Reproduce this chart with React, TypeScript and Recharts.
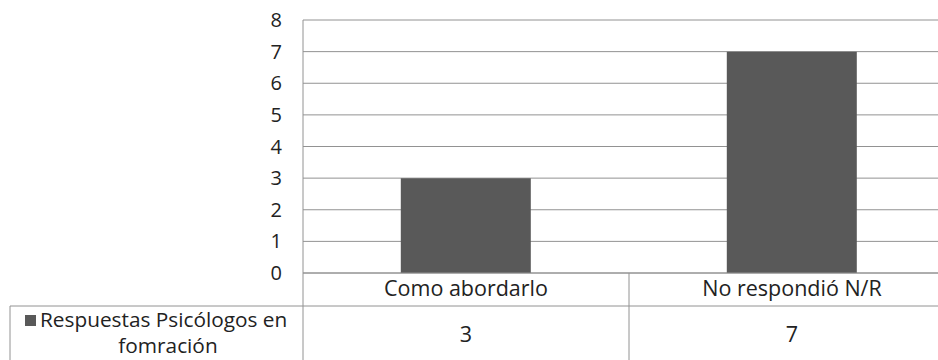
import React from "react";
import { BarChart, Bar, XAxis, YAxis, CartesianGrid } from "recharts";

// chart values
const categories = ["Como abordarlo", "No respondió N/R"];
const respuestas = [3, 7];
const yTicks = [0, 1, 2, 3, 4, 5, 6, 7, 8];
const seriesLines = ["Respuestas Psicólogos en", "fomración"];

const data = categories.map((name, i) => ({ name, respuestas: respuestas[i] }));

const FONT = "'Open Sans', sans-serif";
const TEXT = "#222222";
const LINE = "#929292";
const BAR = "#595959";

// layout of the data table under the plot
const CHART_W = 960;
const CHART_H = 360;
const Y_AXIS_W = 303;
const PLOT_TOP = 20;
const X_AXIS_H = 87;
const PLOT_BOTTOM = CHART_H - X_AXIS_H;
const ROW2_TOP = 306;
const TABLE_LEFT = 10;

const TableTick = (props: any) => {
  const { x, payload, index, width } = props;
  const band = (width ?? CHART_W - Y_AXIS_W - 5) / categories.length;
  const left = x - band / 2;
  const right = x + band / 2;
  return (
    <g fontFamily={FONT}>
      {index === 0 && (
        <g>
          <line x1={TABLE_LEFT} y1={ROW2_TOP} x2={CHART_W} y2={ROW2_TOP} stroke={LINE} />
          <line x1={TABLE_LEFT} y1={ROW2_TOP} x2={TABLE_LEFT} y2={CHART_H + 20} stroke={LINE} />
          <line x1={left} y1={PLOT_BOTTOM} x2={left} y2={CHART_H + 20} stroke={LINE} />
          <rect x={25} y={315} width={11} height={11} fill={BAR} />
          {/* series name wraps onto two lines inside the legend cell */}
          <text fontSize={20.8} fill={TEXT}>
            <tspan x={40} y={327}>
              {seriesLines[0]}
            </tspan>
            <tspan x={168} y={353} textAnchor="middle">
              {seriesLines[1]}
            </tspan>
          </text>
        </g>
      )}
      <line x1={right} y1={PLOT_BOTTOM} x2={right} y2={CHART_H + 20} stroke={LINE} />
      <text x={x} y={296} fontSize={21.5} fill={TEXT} textAnchor="middle">
        {payload.value}
      </text>
      <text x={x} y={342} fontSize={21.5} fill={TEXT} textAnchor="middle">
        {respuestas[index]}
      </text>
    </g>
  );
};

export default function App() {
  return (
    <div
      style={{
        position: "absolute",
        left: 0,
        top: 0,
        width: 938,
        height: 360,
        overflow: "hidden",
        background: "#ffffff",
      }}
    >
      <BarChart
        width={CHART_W}
        height={CHART_H}
        data={data}
        margin={{ top: PLOT_TOP, right: 5, left: 0, bottom: 0 }}
        barCategoryGap="30%"
      >
        <CartesianGrid vertical={false} stroke={LINE} />
        <XAxis
          dataKey="name"
          height={X_AXIS_H}
          axisLine={{ stroke: LINE }}
          tickLine={false}
          tick={<TableTick />}
          interval={0}
        />
        <YAxis
          width={Y_AXIS_W}
          domain={[0, 8]}
          ticks={yTicks}
          interval={0}
          axisLine={{ stroke: LINE }}
          tickLine={false}
          tickSize={0}
          tickMargin={21}
          tick={{ fill: TEXT, fontSize: 20, fontFamily: FONT }}
        />
        <Bar dataKey="respuestas" name="Respuestas Psicólogos en fomración" fill={BAR} isAnimationActive={false} />
      </BarChart>
    </div>
  );
}
